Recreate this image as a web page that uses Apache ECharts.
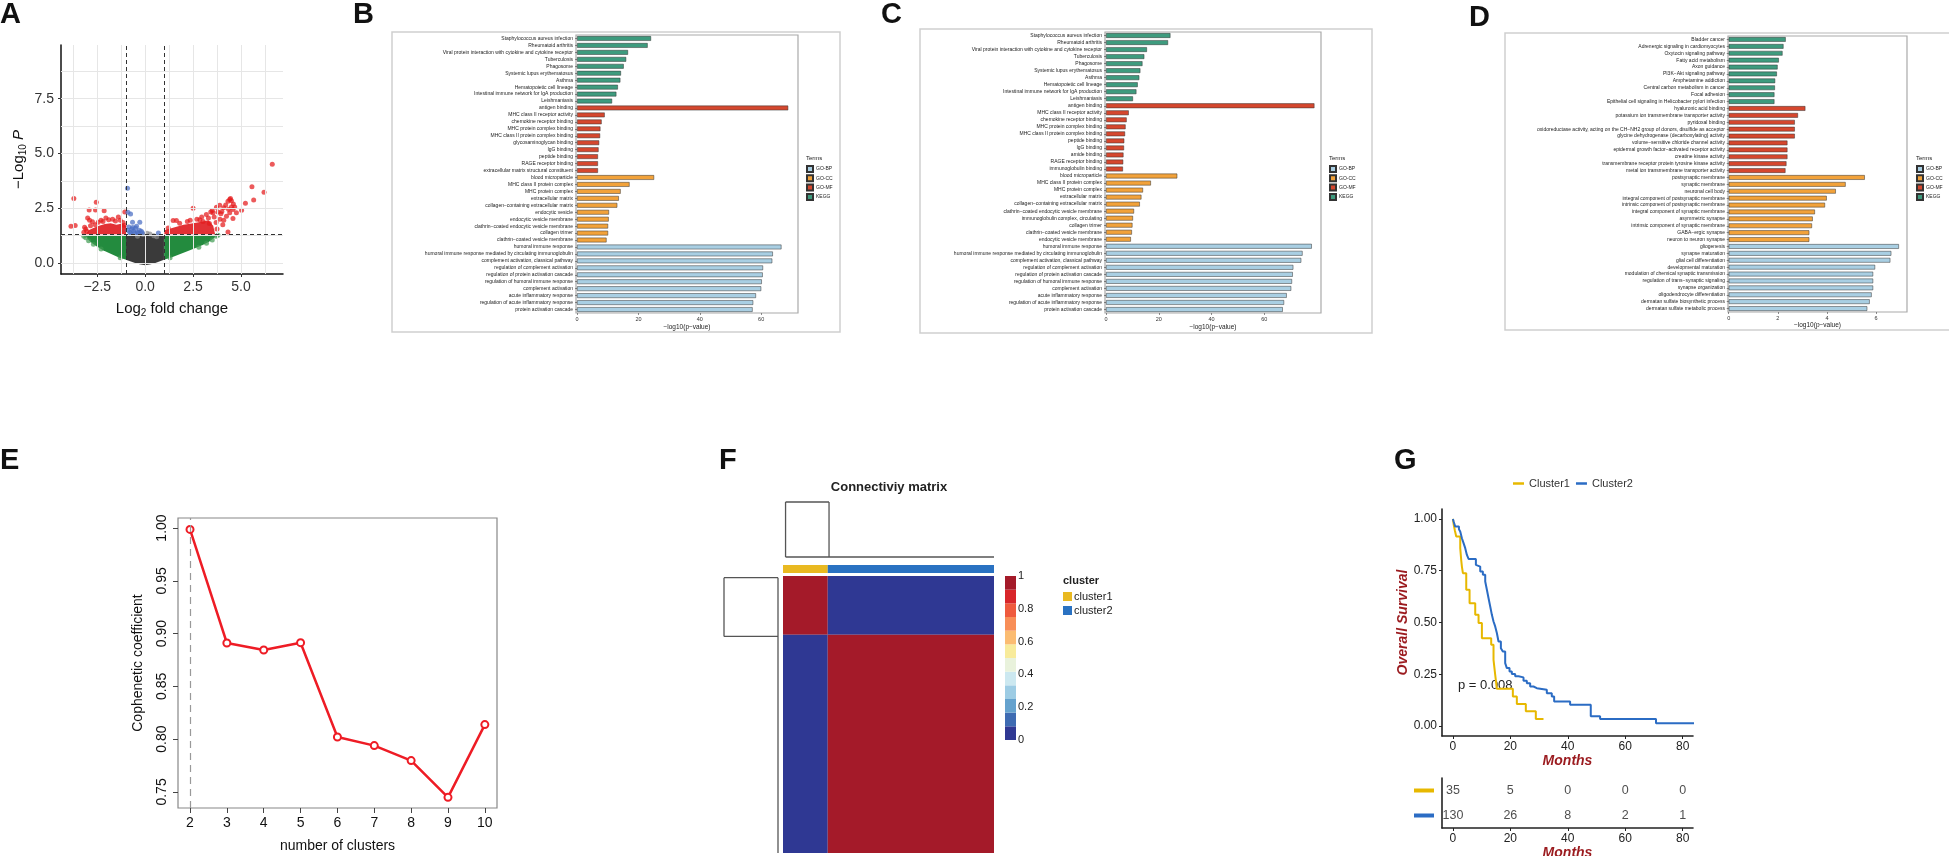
<!DOCTYPE html>
<html><head><meta charset="utf-8">
<script src="https://cdn.jsdelivr.net/npm/echarts@6/dist/echarts.min.js"></script>
<style>html,body{margin:0;padding:0;background:#fff}#c{width:1949px;height:856px}</style>
</head><body><div id="c"></div>
<script>
// ================= DATA =================
// ---- Panel A: volcano plot ----
const volcanoGrayCloud = [[-1.0,1.28],[-1.0,0.15],[-0.6,0.02],[-0.3,-0.05],[0,-0.1],[0.3,-0.05],[0.6,0.02],[0.98,0.15],[0.98,1.28]];
const volcanoGreenLeftCloud = [[-0.99,1.28],[-0.99,0.15],[-1.4,0.27],[-1.8,0.42],[-2.2,0.58],[-2.5,0.74],[-2.8,0.93],[-3.0,1.1],[-3.12,1.28]];
const volcanoGreenRightCloud = [[0.99,1.28],[0.99,0.15],[1.5,0.3],[2.0,0.47],[2.5,0.64],[3.0,0.82],[3.35,0.98],[3.6,1.15],[3.72,1.28]];
const volcanoRedLeftCloud = [[-1.0,1.31],[-1.0,1.7],[-1.2,1.8],[-1.5,1.75],[-1.8,1.82],[-2.1,1.78],[-2.4,1.7],[-2.7,1.6],[-2.95,1.5],[-3.1,1.31]];
const volcanoRedRightCloud = [[1.0,1.31],[1.0,1.5],[1.5,1.62],[2.0,1.75],[2.5,1.82],[3.0,1.9],[3.3,1.95],[3.55,1.7],[3.65,1.31]];
const volcanoRedPoints = [[-3.72,2.94],[-2.55,2.77],[-2.92,2.42],[-2.59,2.42],[-2.14,2.39],[-3.87,1.68],[-3.65,1.71],[-3.16,1.63],[-3.0,2.06],[-1.06,2.33],[-2.9,1.95],[-2.75,1.88],[-2.3,1.95],[-1.9,1.98],[-1.55,1.92],[-1.3,1.95],[-1.15,1.85],[-2.05,2.05],[-3.05,1.45],[-3.2,1.4],[-2.6,1.75],[-1.7,2.0],[-1.1,1.72],[-2.45,1.86],[-3.1,1.55],[-1.4,2.1],[-2.2,1.9],[-2.85,1.7],
  [6.63,4.51],[5.57,3.48],[6.2,3.23],[5.66,2.88],[5.23,2.73],[5.03,2.41],[4.58,2.03],[4.76,2.29],[4.32,2.82],[4.41,2.9],[4.5,2.84],[3.89,2.64],[4.1,2.52],[3.72,2.55],[3.42,2.33],[3.8,2.33],[2.5,2.5],[4.41,2.29],[4.32,1.42],[4.58,2.44],[4.67,2.56],[4.5,2.56],[4.24,2.13],[3.54,2.29],[3.19,2.21],[3.02,1.9],[2.85,1.98],[1.63,1.94],[1.46,1.94],[3.6,2.1],[3.9,2.0],[4.0,2.35],[4.2,2.65],[3.3,2.05],[2.7,2.0],[2.2,1.9],[1.8,1.82],[3.7,1.85],[4.05,1.75],[3.95,2.25],[4.35,2.45],[4.6,2.7],[4.45,2.95],[3.5,2.4],[2.95,2.1],[3.35,1.8],[1.2,1.6],[2.35,1.95],[3.75,1.55],[4.1,1.95]];
const volcanoBluePoints = [[-0.92,3.41],[-0.9,2.32],[-0.76,2.24],[-0.28,1.86],[-0.66,1.86],[-0.85,1.65],[-0.7,1.55],[-0.6,1.45],[-0.5,1.6],[-0.4,1.4],[-0.3,1.5],[-0.2,1.45],[-0.8,1.4],[-0.55,1.38],[-0.9,1.5],[-0.45,1.68],[-0.35,1.35],[-0.65,1.62],[0.69,1.37],[-0.75,1.35],[-0.15,1.38]];
const volcanoGrayPoints = [[0.1,1.36],[-0.1,1.3],[0.25,1.33],[0.45,1.25],[0.6,1.2],[-0.4,1.22]];
const volcanoGreenPoints = [[-3.2,1.22],[-3.1,1.15],[-2.95,1.02],[-2.7,0.86],[-2.3,0.64],[3.7,1.22],[3.8,1.27],[3.5,1.05],[2.8,0.72],[1.3,0.24],[-1.3,0.24],[3.2,0.9]];
const volcanoXTicks = [-2.5,0,2.5,5];
const volcanoYTicks = [0,2.5,5,7.5];
const volcanoGridX = [-3.75,-2.5,-1.25,0,1.25,2.5,3.75,5,6.25];
const volcanoGridY = [0,1.25,2.5,3.75,5,6.25,7.5,8.75];
const volcanoFcCut = [-1,1];
const volcanoPCut = [1.3];

// ---- Panels B, C, D: enrichment bars (10 terms per group, top to bottom) ----
const termGroupsTopDown = ['KEGG','GO-MF','GO-CC','GO-BP'];
const termLegendOrder = ['GO-BP','GO-CC','GO-MF','KEGG'];
const bLabels = ['Staphylococcus aureus infection','Rheumatoid arthritis','Viral protein interaction with cytokine and cytokine receptor','Tuberculosis','Phagosome','Systemic lupus erythematosus','Asthma','Hematopoietic cell lineage','Intestinal immune network for IgA production','Leishmaniasis',
  'antigen binding','MHC class II receptor activity','chemokine receptor binding','MHC protein complex binding','MHC class II protein complex binding','glycosaminoglycan binding','IgG binding','peptide binding','RAGE receptor binding','extracellular matrix structural constituent',
  'blood microparticle','MHC class II protein complex','MHC protein complex','extracellular matrix','collagen−containing extracellular matrix','endocytic vesicle','endocytic vesicle membrane','clathrin−coated endocytic vesicle membrane','collagen trimer','clathrin−coated vesicle membrane',
  'humoral immune response','humoral immune response mediated by circulating immunoglobulin','complement activation, classical pathway','regulation of complement activation','regulation of protein activation cascade','regulation of humoral immune response','complement activation','acute inflammatory response','regulation of acute inflammatory response','protein activation cascade'];
const bValues = [24.1,23.0,16.6,16.0,15.2,14.3,14.1,13.3,12.8,11.4,
  68.8,9.0,8.0,7.6,7.5,7.2,7.0,6.8,6.8,6.8,
  25.1,17.1,14.2,13.6,13.1,10.4,10.3,10.1,10.1,9.6,
  66.6,63.8,63.6,60.6,60.5,60.2,60.0,58.3,57.4,57.2];
const cLabels = ['Staphylococcus aureus infection','Rheumatoid arthritis','Viral protein interaction with cytokine and cytokine receptor','Tuberculosis','Phagosome','Systemic lupus erythematosus','Asthma','Hematopoietic cell lineage','Intestinal immune network for IgA production','Leishmaniasis',
  'antigen binding','MHC class II receptor activity','chemokine receptor binding','MHC protein complex binding','MHC class II protein complex binding','peptide binding','IgG binding','amide binding','RAGE receptor binding','immunoglobulin binding',
  'blood microparticle','MHC class II protein complex','MHC protein complex','extracellular matrix','collagen−containing extracellular matrix','clathrin−coated endocytic vesicle membrane','immunoglobulin complex, circulating','collagen trimer','clathrin−coated vesicle membrane','endocytic vesicle membrane',
  'humoral immune response','humoral immune response mediated by circulating immunoglobulin','complement activation, classical pathway','regulation of complement activation','regulation of protein activation cascade','regulation of humoral immune response','complement activation','acute inflammatory response','regulation of acute inflammatory response','protein activation cascade'];
const cValues = [24.4,23.5,15.5,14.5,13.8,13.0,12.6,12.0,11.5,10.2,
  79.0,8.6,7.8,7.4,7.2,6.9,6.8,6.6,6.5,6.4,
  27.0,17.0,14.0,13.4,12.8,10.6,10.2,10.0,9.8,9.4,
  78.0,74.5,74.0,71.0,70.8,70.5,70.2,68.5,67.5,67.0];
const dLabels = ['Bladder cancer','Adrenergic signaling in cardiomyocytes','Oxytocin signaling pathway','Fatty acid metabolism','Axon guidance','PI3K−Akt signaling pathway','Amphetamine addiction','Central carbon metabolism in cancer','Focal adhesion','Epithelial cell signaling in Helicobacter pylori infection',
  'hyaluronic acid binding','potassium ion transmembrane transporter activity','pyridoxal binding','oxidoreductase activity, acting on the CH−NH2 group of donors, disulfide as acceptor','glycine dehydrogenase (decarboxylating) activity','volume−sensitive chloride channel activity','epidermal growth factor−activated receptor activity','creatine kinase activity','transmembrane receptor protein tyrosine kinase activity','metal ion transmembrane transporter activity',
  'postsynaptic membrane','synaptic membrane','neuronal cell body','integral component of postsynaptic membrane','intrinsic component of postsynaptic membrane','integral component of synaptic membrane','asymmetric synapse','intrinsic component of synaptic membrane','GABA−ergic synapse','neuron to neuron synapse',
  'gliogenesis','synapse maturation','glial cell differentiation','developmental maturation','modulation of chemical synaptic transmission','regulation of trans−synaptic signaling','synapse organization','oligodendrocyte differentiation','dermatan sulfate biosynthetic process','dermatan sulfate metabolic process'];
const dValues = [2.32,2.23,2.19,2.04,1.99,1.96,1.89,1.88,1.86,1.86,
  3.12,2.82,2.69,2.69,2.69,2.39,2.39,2.39,2.35,2.31,
  5.54,4.76,4.36,3.99,3.92,3.51,3.42,3.39,3.28,3.28,
  6.93,6.62,6.58,5.96,5.88,5.88,5.88,5.82,5.74,5.64];
const bTicks = [0,20,40,60];
const cTicks = [0,20,40,60];
const dTicks = [0,2,4,6];

// ---- Panel E: cophenetic coefficient ----
const eClusters = [2,3,4,5,6,7,8,9,10];
const eCoef = [0.9987,0.8911,0.8845,0.8914,0.8021,0.7939,0.7797,0.7449,0.8138];
const eYTicks = [0.75,0.80,0.85,0.90,0.95,1.00];

// ---- Panel F: consensus matrix ----
const fClusterSizes = [35,130];
const fBlocks = [[0,35,0,35,1],[35,165,0,35,0],[0,35,35,165,0],[35,165,35,165,1]]; // [x0,x1,y0,y1,value]
const fColorSteps = ['#2F3893','#3E6BB2','#65A2CE','#9DCCE4','#CCE8F0','#E9F2DC','#F8EB9B','#FBBC72','#F88E57','#EF5A3D','#D8262A','#A41A29'];
const fColorTicks = [0,0.2,0.4,0.6,0.8,1];
const fDendroTop = [[2,0,2,1],[2,1,36,1],[36,1,36,0],[2,0,165,0]];   // [leafA,h,leafB,h]
const fDendroLeft = [[1,1,0,1],[1,1,1,36],[1,36,0,36],[0,1,0,165]];  // [h,leaf,h,leaf]

// ---- Panel G: Kaplan-Meier ----
const kmCluster1 = [[0,1],[0.3,0.971],[0.7,0.943],[1.16,0.915],[2.55,0.859],[2.9,0.8],[3.13,0.770],[3.48,0.738],[4.64,0.658],[5.8,0.593],[7.77,0.537],[8.93,0.497],[10.09,0.424],[13.33,0.392],[14.14,0.320],[14.72,0.248],[15.3,0.180],[20.87,0.143],[22.26,0.106],[25.39,0.071],[28.87,0.034],[31.54,0.034]];
const kmCluster2 = [[0,1],[0.3,0.985],[0.81,0.963],[2.1,0.95],[2.55,0.939],[3.13,0.907],[3.71,0.883],[4.29,0.859],[4.87,0.826],[5.45,0.807],[8.0,0.778],[8.35,0.770],[9.51,0.746],[10.43,0.730],[11.25,0.698],[11.83,0.658],[12.41,0.617],[12.99,0.577],[13.57,0.537],[14.14,0.505],[14.72,0.481],[15.30,0.449],[15.88,0.408],[16.70,0.376],[17.39,0.360],[18.20,0.304],[18.78,0.280],[19.71,0.264],[20.52,0.251],[21.68,0.240],[22.84,0.235],[24.58,0.219],[25.74,0.207],[26.90,0.191],[28.06,0.183],[29.22,0.175],[32.70,0.159],[34.43,0.143],[35.25,0.119],[40.81,0.103],[48.0,0.047],[51.25,0.034],[70.72,0.014],[84.5,0.014]];
const kmTimeTicks = [0,20,40,60,80];
const kmSurvTicks = [0,0.25,0.5,0.75,1];
const riskCluster1 = [35,5,0,0,0];
const riskCluster2 = [130,26,8,2,1];
const kmPValue = 'p = 0.008';

// ================= STYLE / BUILD =================
const FONT = '"Liberation Sans", Arial, Helvetica, sans-serif';
const termColors = {'GO-BP':'#A9CFE3','GO-CC':'#F2A23A','GO-MF':'#D5472E','KEGG':'#3E9B7E'};
const C1 = '#E7B800', C2 = '#2B6CC4';
const RED = '#E41A1C';

const grids = [
  {left:61, top:45, width:222, height:229},      //0 A
  {left:576, top:35, width:222, height:278, show:true, borderColor:'#aaa', borderWidth:1.2}, //1 B
  {left:1105, top:32, width:216, height:281, show:true, borderColor:'#aaa', borderWidth:1.2}, //2 C
  {left:1728, top:36, width:179, height:276, show:true, borderColor:'#aaa', borderWidth:1.2}, //3 D
  {left:178, top:518, width:319, height:290, show:true, borderColor:'#888', borderWidth:1.2}, //4 E
  {left:783, top:502, width:211, height:55},     //5 F top dendro
  {left:783, top:565, width:211, height:8},      //6 F annotation
  {left:783, top:576, width:211, height:277},    //7 F matrix
  {left:724, top:576, width:54, height:277},     //8 F left dendro
  {left:1005, top:576, width:11, height:164},    //9 F colorbar
  {left:1442, top:509, width:251, height:227},   //10 G KM
  {left:1442, top:778, width:251, height:50}     //11 G risk
].map(g => Object.assign({containLabel:false, outerBoundsMode:'none'}, g));

const hidden = {show:false};
function hiddenAxis(gi, extra){ return Object.assign({gridIndex:gi, type:'value', show:false, axisLine:hidden, axisTick:hidden, axisLabel:hidden, splitLine:hidden}, extra||{}); }

const minusFmt = (v,d) => (v<0?'−':'') + Math.abs(v).toFixed(d);

const xAxes = [], yAxes = [];
// A
xAxes.push({gridIndex:0, type:'value', min:-4.39, max:7.19,
  axisLine:{show:true, onZero:false, lineStyle:{color:'#111', width:1.5}},
  axisTick:{show:true, length:3, customValues:volcanoXTicks, lineStyle:{color:'#333'}},
  axisLabel:{customValues:volcanoXTicks, formatter:v=>minusFmt(v,1), fontSize:14, color:'#333', margin:6, fontFamily:FONT},
  splitLine:hidden,
  name:'{n|Log}{s|2}{n| fold change}', nameLocation:'middle', nameGap:26,
  nameTextStyle:{color:'#111', rich:{n:{fontSize:15, fontFamily:FONT, color:'#111'}, s:{fontSize:10, fontFamily:FONT, color:'#111', padding:[8,0,0,0]}}}});
yAxes.push({gridIndex:0, type:'value', min:-0.5, max:9.95,
  axisLine:{show:true, onZero:false, lineStyle:{color:'#111', width:1.5}},
  axisTick:{show:true, length:3, customValues:volcanoYTicks, lineStyle:{color:'#333'}},
  axisLabel:{customValues:volcanoYTicks, formatter:v=>v.toFixed(1), fontSize:14, color:'#333', margin:7, fontFamily:FONT},
  splitLine:hidden,
  name:'{n|−Log}{s|10}{n| }{i|P}', nameLocation:'middle', nameGap:33, nameRotate:90,
  nameTextStyle:{color:'#111', rich:{n:{fontSize:15, fontFamily:FONT, color:'#111'}, s:{fontSize:10, fontFamily:FONT, color:'#111', padding:[8,0,0,0]}, i:{fontSize:15, fontFamily:FONT, fontStyle:'italic', color:'#111'}}}});

// B, C, D
function barAxes(gi, labels, min, max, ticks, nameGap){
  xAxes.push({gridIndex:gi, type:'value', min, max,
    axisLine:hidden,
    axisTick:{show:true, length:2, customValues:ticks, lineStyle:{color:'#444', width:0.6}},
    axisLabel:{customValues:ticks, fontSize:5.5, color:'#333', margin:3, fontFamily:FONT},
    splitLine:hidden,
    name:'−log10(p−value)', nameLocation:'middle', nameGap:nameGap,
    nameTextStyle:{fontSize:6.5, color:'#222', fontFamily:FONT}});
  yAxes.push({gridIndex:gi, type:'category', data:labels, inverse:true,
    axisLine:hidden,
    axisTick:{show:true, alignWithLabel:true, length:2, lineStyle:{color:'#444', width:0.6}},
    axisLabel:{interval:0, fontSize:5, color:'#222', margin:3, fontFamily:FONT},
    splitLine:hidden});
}
barAxes(1, bLabels, -0.35, 72, bTicks, 11);
barAxes(2, cLabels, -0.4, 81.5, cTicks, 11);
barAxes(3, dLabels, -0.03, 7.26, dTicks, 8);

// E
xAxes.push({gridIndex:4, type:'value', min:1.674, max:10.33,
  axisLine:hidden,
  axisTick:{show:true, length:5, customValues:eClusters, lineStyle:{color:'#444', width:1}},
  axisLabel:{customValues:eClusters, fontSize:14, color:'#111', margin:8, fontFamily:FONT},
  splitLine:hidden,
  name:'number of clusters', nameLocation:'middle', nameGap:31, nameTextStyle:{fontSize:14, color:'#111', fontFamily:FONT}});
yAxes.push({gridIndex:4, type:'value', min:0.7348, max:1.0095,
  axisLine:hidden,
  axisTick:{show:true, length:5, customValues:eYTicks, lineStyle:{color:'#444', width:1}},
  axisLabel:{customValues:eYTicks, formatter:v=>v.toFixed(2), rotate:90, fontSize:14, color:'#111', margin:9, fontFamily:FONT},
  splitLine:hidden,
  name:'Cophenetic coefficient', nameLocation:'middle', nameGap:33, nameRotate:90, nameTextStyle:{fontSize:14, color:'#111', fontFamily:FONT}});

// F
xAxes.push(hiddenAxis(5,{min:0,max:165})); yAxes.push(hiddenAxis(5,{min:0,max:1}));
xAxes.push(hiddenAxis(6,{min:0,max:165})); yAxes.push(hiddenAxis(6,{min:0,max:1}));
xAxes.push(hiddenAxis(7,{min:0,max:165})); yAxes.push(hiddenAxis(7,{min:0,max:165, inverse:true}));
xAxes.push(hiddenAxis(8,{min:0,max:1, inverse:true})); yAxes.push(hiddenAxis(8,{min:0,max:165, inverse:true}));
xAxes.push(hiddenAxis(9,{min:0,max:1}));
yAxes.push({gridIndex:9, type:'value', min:0, max:1, position:'right',
  axisLine:hidden, axisTick:hidden, splitLine:hidden,
  axisLabel:{customValues:fColorTicks, formatter:v=>(v===0||v===1)?String(v):v.toFixed(1), fontSize:11, color:'#222', margin:2, fontFamily:FONT}});

// G
xAxes.push({gridIndex:10, type:'value', min:-3.8, max:83.6,
  axisLine:{show:true, onZero:false, lineStyle:{color:'#222', width:1.6}},
  axisTick:{show:true, length:3, customValues:kmTimeTicks, lineStyle:{color:'#222'}},
  axisLabel:{customValues:kmTimeTicks, fontSize:12, color:'#222', margin:5, fontFamily:FONT},
  splitLine:hidden,
  name:'Months', nameLocation:'middle', nameGap:17, nameTextStyle:{fontSize:14, fontWeight:'bold', fontStyle:'italic', color:'#9B1B1F', fontFamily:FONT}});
yAxes.push({gridIndex:10, type:'value', min:-0.048, max:1.048,
  axisLine:{show:true, onZero:false, lineStyle:{color:'#222', width:1.6}},
  axisTick:{show:true, length:3, customValues:kmSurvTicks, lineStyle:{color:'#222'}},
  axisLabel:{customValues:kmSurvTicks, formatter:v=>v.toFixed(2), fontSize:12, color:'#222', margin:5, fontFamily:FONT},
  splitLine:hidden,
  name:'Overall Survival', nameLocation:'middle', nameGap:32, nameRotate:90,
  nameTextStyle:{fontSize:14, fontWeight:'bold', fontStyle:'italic', color:'#9B1B1F', fontFamily:FONT}});
xAxes.push({gridIndex:11, type:'value', min:-3.8, max:83.6,
  axisLine:{show:true, onZero:false, lineStyle:{color:'#222', width:1.6}},
  axisTick:{show:true, length:3, customValues:kmTimeTicks, lineStyle:{color:'#222'}},
  axisLabel:{customValues:kmTimeTicks, fontSize:12, color:'#222', margin:5, fontFamily:FONT},
  splitLine:hidden,
  name:'Months', nameLocation:'middle', nameGap:17, nameTextStyle:{fontSize:14, fontWeight:'bold', fontStyle:'italic', color:'#9B1B1F', fontFamily:FONT}});
yAxes.push({gridIndex:11, type:'category', data:['Cluster1','Cluster2'], inverse:true,
  axisLine:{show:true, onZero:false, lineStyle:{color:'#222', width:1.6}},
  axisTick:hidden, splitLine:hidden,
  axisLabel:{margin:8, formatter:v=>v==='Cluster1'?'{a|}':'{b|}',
    rich:{a:{width:20, height:4, backgroundColor:C1}, b:{width:20, height:4, backgroundColor:C2}}}});

// ---------- series ----------
const series = [];
function polygonSeries(verts, color, opacity, z){
  return {type:'custom', xAxisIndex:0, yAxisIndex:0, z, silent:true, clip:true,
    data:verts, encode:{x:0, y:1},
    renderItem:(params, api)=>{
      if(params.dataIndex!==0) return null;
      return {type:'polygon', shape:{points:verts.map(v=>api.coord(v))}, style:{fill:color, opacity}};
    }};
}
function scatterSeries(data, color, opacity, z){
  return {type:'scatter', xAxisIndex:0, yAxisIndex:0, data, symbolSize:5, z, silent:true,
    itemStyle:{color, opacity}};
}
// A grid lines
series.push({type:'scatter', xAxisIndex:0, yAxisIndex:0, data:[], symbolSize:0, z:0, silent:true,
  markLine:{silent:true, symbol:['none','none'], label:{show:false}, animation:false,
    lineStyle:{color:'#E6E6E6', width:1, type:'solid'},
    data:[...volcanoGridX.map(v=>({xAxis:v})), ...volcanoGridY.map(v=>({yAxis:v}))]}});
series.push(polygonSeries(volcanoGrayCloud, '#3a3a3a', 1, 2));
series.push(polygonSeries(volcanoGreenLeftCloud, '#238B3E', 1, 2));
series.push(polygonSeries(volcanoGreenRightCloud, '#238B3E', 1, 2));
series.push(polygonSeries(volcanoRedLeftCloud, '#E0262A', 0.95, 2));
series.push(polygonSeries(volcanoRedRightCloud, '#E0262A', 0.95, 2));
series.push(scatterSeries(volcanoGreenPoints, '#3D9A50', 0.7, 3));
series.push(scatterSeries(volcanoGrayPoints, '#8a8a8a', 0.7, 3));
series.push(scatterSeries(volcanoRedPoints, RED, 0.72, 3));
series.push(scatterSeries(volcanoBluePoints, '#4A6DC4', 0.72, 3));
series.push({type:'scatter', xAxisIndex:0, yAxisIndex:0, data:[], symbolSize:0, z:5, silent:true,
  markLine:{silent:true, symbol:['none','none'], label:{show:false}, animation:false,
    lineStyle:{color:'#333', width:1, type:[4,3]},
    data:[...volcanoFcCut.map(v=>({xAxis:v})), ...volcanoPCut.map(v=>({yAxis:v}))]}});

// B, C, D bars
function barSeries(gi, values){
  termLegendOrder.forEach(g=>{
    series.push({type:'bar', name:g, xAxisIndex:gi, yAxisIndex:gi, stack:'s'+gi,
      barCategoryGap:'32%', silent:true,
      itemStyle:{color:termColors[g], borderColor:'#333', borderWidth:0.5},
      data: values.map((v,i)=> termGroupsTopDown[Math.floor(i/10)]===g ? v : '-')});
  });
}
barSeries(1, bValues); barSeries(2, cValues); barSeries(3, dValues);

// E
series.push({type:'line', xAxisIndex:4, yAxisIndex:4, data:eClusters.map((k,i)=>[k,eCoef[i]]),
  symbol:'circle', symbolSize:7, showSymbol:true, silent:true, z:4,
  lineStyle:{color:'#EE1C25', width:2.5}, itemStyle:{color:'#fff', borderColor:'#EE1C25', borderWidth:2},
  markLine:{silent:true, symbol:['none','none'], label:{show:false}, animation:false,
    lineStyle:{color:'#999', width:1.2, type:[7,5]}, data:[{xAxis:eClusters[0]}]}});

// F dendrograms
function segSeries(gi, segs){
  return {type:'custom', xAxisIndex:gi, yAxisIndex:gi, silent:true, data:segs, encode:{x:[0,2], y:[1,3]},
    renderItem:(p, api)=>{
      const a = api.coord([api.value(0), api.value(1)]), b = api.coord([api.value(2), api.value(3)]);
      return {type:'line', shape:{x1:a[0], y1:a[1], x2:b[0], y2:b[1]}, style:{stroke:'#555', lineWidth:1.3}};
    }};
}
series.push(segSeries(5, fDendroTop));
series.push(segSeries(8, fDendroLeft));
// F annotation bar
const fStarts = [0, fClusterSizes[0]];
['cluster1','cluster2'].forEach((nm,k)=>{
  series.push({type:'custom', name:nm, xAxisIndex:6, yAxisIndex:6, silent:true,
    itemStyle:{color: k===0 ? '#E9B921' : '#2A72C2'},
    data:[[fStarts[k], fStarts[k]+fClusterSizes[k]]], encode:{x:[0,1]},
    renderItem:(p, api)=>{
      const a = api.coord([api.value(0), 1]), b = api.coord([api.value(1), 0]);
      return {type:'rect', shape:{x:a[0], y:a[1], width:b[0]-a[0], height:b[1]-a[1]}, style:{fill:api.visual('color')}};
    }});
});
// F matrix
const colorFor = v => fColorSteps[Math.min(fColorSteps.length-1, Math.floor(v*fColorSteps.length))];
series.push({type:'custom', xAxisIndex:7, yAxisIndex:7, silent:true, data:fBlocks, encode:{x:[0,1], y:[2,3]},
  renderItem:(p, api)=>{
    const a = api.coord([api.value(0), api.value(2)]), b = api.coord([api.value(1), api.value(3)]);
    return {type:'rect', shape:{x:a[0], y:a[1], width:b[0]-a[0], height:b[1]-a[1]}, style:{fill:colorFor(api.value(4))}};
  }});
// F colorbar
series.push({type:'custom', xAxisIndex:9, yAxisIndex:9, silent:true,
  data:fColorSteps.map((c,i)=>[i/fColorSteps.length, (i+1)/fColorSteps.length, i]), encode:{y:[0,1]},
  renderItem:(p, api)=>{
    const a = api.coord([0, api.value(1)]), b = api.coord([1, api.value(0)]);
    return {type:'rect', shape:{x:a[0], y:a[1], width:b[0]-a[0], height:b[1]-a[1]}, style:{fill:fColorSteps[api.value(2)]}};
  }});

// G
series.push({type:'line', name:'Cluster1', xAxisIndex:10, yAxisIndex:10, step:'end', data:kmCluster1,
  showSymbol:false, silent:true, lineStyle:{color:C1, width:2}, itemStyle:{color:C1}, clip:true});
series.push({type:'line', name:'Cluster2', xAxisIndex:10, yAxisIndex:10, step:'end', data:kmCluster2,
  showSymbol:false, silent:true, lineStyle:{color:C2, width:2}, itemStyle:{color:C2}, clip:true});
[[riskCluster1,'Cluster1'],[riskCluster2,'Cluster2']].forEach(([arr,row])=>{
  series.push({type:'scatter', xAxisIndex:11, yAxisIndex:11, silent:true, symbolSize:1,
    itemStyle:{color:'rgba(0,0,0,0)'},
    data: kmTimeTicks.map((t,i)=>[t,row,arr[i]]),
    label:{show:true, position:'inside', formatter:p=>String(p.value[2]), fontSize:12.5, color:'#222', fontFamily:FONT}});
});

// ---------- legends ----------
function termsLegend(left, top){
  return {data:termLegendOrder, orient:'vertical', left, top, padding:0, itemWidth:6, itemHeight:6, itemGap:1.3,
    icon:'rect', selectedMode:false, textStyle:{fontSize:5, color:'#222', fontFamily:FONT, padding:[0,0,0,-2]}};
}
const legends = [
  termsLegend(806, 165), termsLegend(1329, 165), termsLegend(1916, 165),
  {data:['cluster1','cluster2'], orient:'vertical', left:1063, top:591, padding:0, itemWidth:9, itemHeight:9, itemGap:3,
    icon:'rect', selectedMode:false, textStyle:{fontSize:11, color:'#222', fontFamily:FONT, padding:[0,0,0,-3]}},
  {data:['Cluster1','Cluster2'], orient:'horizontal', left:1513, top:478, padding:0, itemWidth:11, itemHeight:2.5, itemGap:6,
    icon:'rect', selectedMode:false, textStyle:{fontSize:11, color:'#333', fontFamily:FONT}}
];

// ---------- graphic text / frames ----------
const txt = (x,y,text,size,extra)=>({type:'text', x, y, silent:true,
  style:Object.assign({text, fontSize:size, fontFamily:FONT, fill:'#111', align:'left', verticalAlign:'middle'}, extra||{})});
const frame = (x,y,w,h)=>({type:'rect', silent:true, shape:{x,y,width:w,height:h}, style:{fill:'none', stroke:'#CFCFCF', lineWidth:1.5}});
const graphic = [
  frame(392,32,448,300), frame(920,29,452,304), frame(1505,33,470,297),
  txt(0,15,'A',29,{fontWeight:'bold'}), txt(353,15,'B',29,{fontWeight:'bold'}), txt(881,15,'C',29,{fontWeight:'bold'}), txt(1469,18,'D',29,{fontWeight:'bold'}),
  txt(0,461,'E',29,{fontWeight:'bold'}), txt(719,461,'F',29,{fontWeight:'bold'}), txt(1394,461,'G',29,{fontWeight:'bold'}),
  txt(806,158,'Terms',6,{fill:'#222'}), txt(1329,158,'Terms',6,{fill:'#222'}), txt(1916,158,'Terms',6,{fill:'#222'}),
  txt(889,487,'Connectiviy matrix',13,{fontWeight:'bold', align:'center', fill:'#222'}),
  txt(1063,581,'cluster',11,{fontWeight:'bold', fill:'#222'}),
  txt(1458,685,kmPValue,13,{fill:'#222'})
];

const chart = echarts.init(document.getElementById('c'), null, {renderer:'canvas'});
chart.setOption({
  animation:false,
  backgroundColor:'#fff',
  textStyle:{fontFamily:FONT},
  grid:grids, xAxis:xAxes, yAxis:yAxes,
  legend:legends, series, graphic
});
</script></body></html>
